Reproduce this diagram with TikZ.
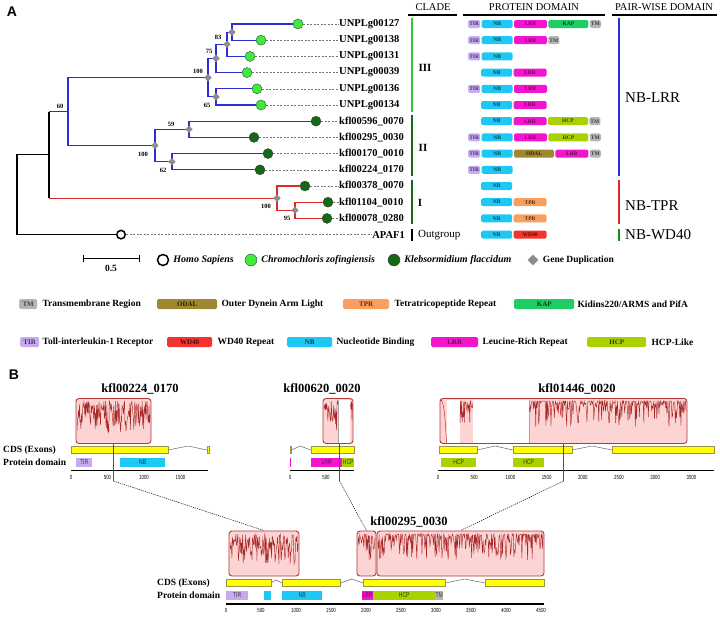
\documentclass[tikz,border=0pt]{standalone}
\usepackage{fontspec}
\setmainfont{Liberation Serif}
\newfontfamily\panelfont{Liberation Sans}
\newfontfamily\narrowfont[FakeStretch=0.72]{Liberation Sans}
\usepackage{tikz}
\usetikzlibrary{shapes.geometric, positioning}
\definecolor{treeblue}{RGB}{45,45,215}
\definecolor{treered}{RGB}{225,40,40}
\definecolor{czgreen}{RGB}{60,235,60}
\definecolor{kfgreen}{RGB}{20,105,20}
\definecolor{dupgray}{RGB}{140,140,140}
\definecolor{tirfill}{RGB}{200,170,240}
\definecolor{nbfill}{RGB}{30,200,245}
\definecolor{lrrfill}{RGB}{245,20,205}
\definecolor{kapfill}{RGB}{30,205,100}
\definecolor{tmfill}{RGB}{180,180,180}
\definecolor{hcpfill}{RGB}{170,210,0}
\definecolor{odalfill}{RGB}{160,135,50}
\definecolor{tprfill}{RGB}{250,160,95}
\definecolor{wdfill}{RGB}{245,50,45}
\definecolor{cdsyellow}{RGB}{255,255,0}
\definecolor{pinkfill}{RGB}{252,212,212}
\definecolor{simred}{RGB}{180,55,55}
\definecolor{tracered}{RGB}{170,40,40}

\begin{document}
\begin{tikzpicture}[
    x=1pt, y=-1pt,
    treeedge/.style={line width=1.1pt},
    blueedge/.style={treeedge, draw=treeblue},
    rededge/.style={treeedge, draw=treered},
    cz/.style={circle, draw=black!75, line width=0.4pt, fill=czgreen, minimum size=10pt, inner sep=0pt},
    kf/.style={cz, fill=kfgreen},
    hs/.style={circle, draw=black, line width=1.5pt, fill=white, minimum size=8.5pt, inner sep=0pt},
    dup/.style={diamond, fill=dupgray, minimum size=7.5pt, inner sep=0pt},
    boot/.style={font=\fontsize{6.5}{7}\selectfont\bfseries, inner sep=0pt},
    leaf/.style={font=\fontsize{10.5}{11}\selectfont\bfseries, anchor=west, inner sep=0pt},
    leafdash/.style={draw=black!55, line width=0.5pt, dash pattern=on 2pt off 1.5pt},
    hdr/.style={font=\fontsize{10.5}{11}\selectfont},
    hdrline/.style={line width=1.3pt},
    cladebar/.style={line width=2pt},
    clade/.style={font=\fontsize{11}{12}\selectfont\bfseries},
    outg/.style={font=\fontsize{11}{12}\selectfont, anchor=west, inner sep=0pt},
    pair/.style={font=\fontsize{15}{16}\selectfont, anchor=west, inner sep=0pt},
    dom/.style={rounded corners=1.5pt, minimum height=8pt, inner sep=0pt, font=\fontsize{5.5}{5.5}\selectfont\bfseries},
    tir/.style={dom, fill=tirfill, text=tirfill!30!black, minimum width=12pt},
    nb/.style={dom, fill=nbfill, text=nbfill!30!black, minimum width=31pt},
    lrr/.style={dom, fill=lrrfill, text=lrrfill!40!black, minimum width=33pt},
    kap/.style={dom, fill=kapfill, text=kapfill!30!black, minimum width=40pt},
    tm/.style={dom, fill=tmfill, text=black!75, minimum width=11pt},
    hcp/.style={dom, fill=hcpfill, text=hcpfill!30!black, minimum width=40pt},
    odal/.style={dom, fill=odalfill, text=odalfill!25!black, minimum width=40pt},
    tpr/.style={dom, fill=tprfill, text=tprfill!30!black, minimum width=33pt},
    wd/.style={dom, fill=wdfill, text=wdfill!30!black, minimum width=33pt},
    leg/.style={minimum height=10pt, font=\fontsize{7}{7}\selectfont\bfseries},
    legtext/.style={font=\fontsize{9.5}{10}\selectfont\bfseries, anchor=west, inner sep=0pt},
    legit/.style={legtext, font=\fontsize{10}{11}\selectfont\bfseries\itshape},
    panel/.style={font=\panelfont\fontsize{14}{14}\selectfont\bfseries},
    gtitle/.style={font=\fontsize{12.5}{13}\selectfont\bfseries},
    rowlabel/.style={font=\fontsize{9.5}{10}\selectfont\bfseries, anchor=west, inner sep=0pt},
    cds/.style={fill=cdsyellow, draw=black!45!yellow, line width=0.5pt},
    intron/.style={draw=black!60, line width=0.5pt},
    bdom/.style={sharp corners, minimum height=9pt, anchor=west, font=\narrowfont\fontsize{7}{7}\selectfont},
    axisline/.style={line width=1.4pt},
    ticklabel/.style={font=\narrowfont\fontsize{6}{6}\selectfont, inner sep=0pt},
    simbox/.style={draw=simred, line width=0.9pt, fill=pinkfill, rounded corners=3pt, inner sep=0pt, minimum height=45pt},
    trace/.style={draw=tracered, line width=0.45pt},
    marker/.style={draw=treered!85!black, line width=1pt},
    zoomline/.style={line width=0.5pt, dash pattern=on 1.2pt off 1pt}
]
\useasboundingbox (0,0) rectangle (720,616);
\pgfmathsetseed{11}

% Panel A
\node[panel] (pA) at (12,12) {A};

% Internal nodes
\coordinate (root) at (17,194.75);
\coordinate (A) at (49,154.9);
\coordinate (b) at (68,111.6);
\coordinate (n4) at (208,77.65);
\coordinate (n3) at (216,58.4);
\coordinate (n2) at (227,44.25);
\coordinate (n1) at (232,32.1);
\coordinate (n5) at (216,96.9);
\coordinate (c2) at (155,145.5);
\coordinate (n6) at (189,129.3);
\coordinate (n7) at (172,161.7);
\coordinate (r1) at (277,198.15);
\coordinate (r2) at (295,210.3);

% Leaves
\node[cz] (l1) at (298,24) {};
\node[cz] (l2) at (261,40.2) {};
\node[cz] (l3) at (250,56.4) {};
\node[cz] (l4) at (247,72.6) {};
\node[cz] (l5) at (257,88.8) {};
\node[cz] (l6) at (261,105) {};
\node[kf] (l7) at (316,121.2) {};
\node[kf] (l8) at (254,137.4) {};
\node[kf] (l9) at (268,153.6) {};
\node[kf] (l10) at (260,169.8) {};
\node[kf] (l11) at (305,186) {};
\node[kf] (l12) at (328,202.2) {};
\node[kf] (l13) at (327,218.4) {};
\node[hs] (l14) at (121,234.6) {};

% Branches
\draw[treeedge] (root) |- (A);
\draw[treeedge] (root) |- (l14);
\draw[treeedge] (A |- b) -- (A |- r1);
\draw[blueedge] (A |- b) -- (b);
\draw[rededge] (A |- r1) -- (r1);

\draw[blueedge] (b) |- (n4);
\draw[blueedge] (b) |- (c2);
\draw[blueedge] (n4) |- (n3);
\draw[blueedge] (n4) |- (n5);
\draw[blueedge] (n3) |- (n2);
\draw[blueedge] (n3) |- (l4);
\draw[blueedge] (n2) |- (n1);
\draw[blueedge] (n2) |- (l3);
\draw[blueedge] (n1) |- (l1);
\draw[blueedge] (n1) |- (l2);
\draw[blueedge] (n5) |- (l5);
\draw[blueedge] (n5) |- (l6);
\draw[blueedge] (c2) |- (n6);
\draw[blueedge] (c2) |- (n7);
\draw[blueedge] (n6) |- (l7);
\draw[blueedge] (n6) |- (l8);
\draw[blueedge] (n7) |- (l9);
\draw[blueedge] (n7) |- (l10);

\draw[rededge] (r1) |- (l11);
\draw[rededge] (r1) |- (r2);
\draw[rededge] (r2) |- (l12);
\draw[rededge] (r2) |- (l13);

% Gene duplications
\foreach \n in {n1,n2,n3,n4,n5,c2,n6,n7,r1,r2}
  \node[dup] (d\n) at (\n) {};

% Bootstrap values
\node[boot] (bs60) at (60,106) {60};
\node[boot] (bs83) at (218,37) {83};
\node[boot] (bs75) at (209,51) {75};
\node[boot] (bs100a) at (198,71) {100};
\node[boot] (bs65) at (207,105) {65};
\node[boot] (bs59) at (171,124) {59};
\node[boot] (bs100b) at (143,154) {100};
\node[boot] (bs62) at (163,170) {62};
\node[boot] (bs100c) at (266,206) {100};
\node[boot] (bs95) at (287,218) {95};

% Gene names
\node[leaf] (t1) at (339,24) {UNPLg00127};
\node[leaf] (t2) at (339,40.2) {UNPLg00138};
\node[leaf] (t3) at (339,56.4) {UNPLg00131};
\node[leaf] (t4) at (339,72.6) {UNPLg00039};
\node[leaf] (t5) at (339,88.8) {UNPLg00136};
\node[leaf] (t6) at (339,105) {UNPLg00134};
\node[leaf] (t7) at (339,121.2) {kfl00596\_0070};
\node[leaf] (t8) at (339,137.4) {kfl00295\_0030};
\node[leaf] (t9) at (339,153.6) {kfl00170\_0010};
\node[leaf] (t10) at (339,169.8) {kfl00224\_0170};
\node[leaf] (t11) at (339,186) {kfl00378\_0070};
\node[leaf] (t12) at (339,202.2) {kfl01104\_0010};
\node[leaf] (t13) at (339,218.4) {kfl00078\_0280};
\node[leaf, anchor=east] (t14) at (405,234.6) {APAF1};

\foreach \i in {1,...,14}
  \draw[leafdash] (l\i) -- (t\i);

% Headers
\node[hdr] (hclade) at (433,7) {CLADE};
\node[hdr] (hdom) at (534,7) {PROTEIN DOMAIN};
\node[hdr] (hpair) at (664,7) {PAIR-WISE DOMAIN};
\draw[hdrline] (408,15) -- (457,15);
\draw[hdrline] (463,15) -- (605,15);
\draw[hdrline] (612,15) -- (717,15);

% Clades
\draw[cladebar, czgreen!85!black] (412,18) -- (412,112);
\draw[cladebar, kfgreen] (412,115) -- (412,176);
\draw[cladebar, kfgreen] (412,180) -- (412,224);
\draw[cladebar, black] (412,229) -- (412,241);
\node[clade] (cIII) at (425,68) {III};
\node[clade] (cII) at (423,148) {II};
\node[clade] (cI) at (420,203) {I};
\node[outg] (cout) at (418,235) {Outgroup};

% Pair-wise domains
\draw[cladebar, treeblue] (619,18) -- (619,176);
\draw[cladebar, treered] (619,180) -- (619,224);
\draw[cladebar, kfgreen!70!green] (619,229) -- (619,241);
\node[pair] (pw1) at (625,98) {NB-LRR};
\node[pair] (pw2) at (625,206) {NB-TPR};
\node[pair] (pw3) at (625,235) {NB-WD40};

% Protein domains
\node[tir, anchor=west] (d0tir) at (468,24) {TIR};
\node[nb, right=1pt of d0tir] (d0nb) {NB};
\node[lrr, right=1pt of d0nb] (d0lrr) {LRR};
\node[kap, right=1pt of d0lrr] (d0kap) {KAP};
\node[tm, right=1pt of d0kap] (d0tm) {TM};

\node[tir, anchor=west] (d1tir) at (468,40.2) {TIR};
\node[nb, right=1pt of d1tir] (d1nb) {NB};
\node[lrr, right=1pt of d1nb] (d1lrr) {LRR};
\node[tm, right=1pt of d1lrr] (d1tm) {TM};

\node[tir, anchor=west] (d2tir) at (468,56.4) {TIR};
\node[nb, right=1pt of d2tir] (d2nb) {NB};

\node[nb, anchor=west] (d3nb) at (481,72.6) {NB};
\node[lrr, right=1pt of d3nb] (d3lrr) {LRR};

\node[tir, anchor=west] (d4tir) at (468,88.8) {TIR};
\node[nb, right=1pt of d4tir] (d4nb) {NB};
\node[lrr, right=1pt of d4nb] (d4lrr) {LRR};

\node[nb, anchor=west] (d5nb) at (481,105) {NB};
\node[lrr, right=1pt of d5nb] (d5lrr) {LRR};

\node[nb, anchor=west] (d6nb) at (481,121.2) {NB};
\node[lrr, right=1pt of d6nb] (d6lrr) {LRR};
\node[hcp, right=1pt of d6lrr] (d6hcp) {HCP};
\node[tm, right=1pt of d6hcp] (d6tm) {TM};

\node[tir, anchor=west] (d7tir) at (468,137.4) {TIR};
\node[nb, right=1pt of d7tir] (d7nb) {NB};
\node[lrr, right=1pt of d7nb] (d7lrr) {LRR};
\node[hcp, right=1pt of d7lrr] (d7hcp) {HCP};
\node[tm, right=1pt of d7hcp] (d7tm) {TM};

\node[tir, anchor=west] (d8tir) at (468,153.6) {TIR};
\node[nb, right=1pt of d8tir] (d8nb) {NB};
\node[odal, right=1pt of d8nb] (d8odal) {ODAL};
\node[lrr, right=1pt of d8odal] (d8lrr) {LRR};
\node[tm, right=1pt of d8lrr] (d8tm) {TM};

\node[tir, anchor=west] (d9tir) at (468,169.8) {TIR};
\node[nb, right=1pt of d9tir] (d9nb) {NB};

\node[nb, anchor=west] (d10nb) at (481,186) {NB};

\node[nb, anchor=west] (d11nb) at (481,202.2) {NB};
\node[tpr, right=1pt of d11nb] (d11tpr) {TPR};

\node[nb, anchor=west] (d12nb) at (481,218.4) {NB};
\node[tpr, right=1pt of d12nb] (d12tpr) {TPR};

\node[nb, anchor=west] (d13nb) at (481,234.6) {NB};
\node[wd, right=1pt of d13nb] (d13wd) {WD40};

% Legend: species
\draw[line width=0.9pt] (83,254.5) -- (83,261.5) (83,258) -- (139,258) (139,254.5) -- (139,261.5);
\node[legtext, anchor=center] (scale) at (111,268) {0.5};
\node[hs, minimum size=11pt] (khs) at (163,260) {};
\node[legit, right=4pt of khs] (khst) {Homo Sapiens};
\node[cz, minimum size=12pt] (kcz) at (251,260) {};
\node[legit, right=4pt of kcz] (kczt) {Chromochloris zofingiensis};
\node[kf, minimum size=12pt] (kkf) at (394,260) {};
\node[legit, right=4pt of kkf] (kkft) {Klebsormidium flaccidum};
\node[dup, minimum size=11pt] (kdup) at (533,260) {};
\node[legtext, right=4pt of kdup] (kdupt) {Gene Duplication};

% Legend: domains
\node[tm, leg, minimum width=18pt, anchor=west] (ktm) at (19,304) {TM};
\node[legtext, right=5pt of ktm] (ktmt) {Transmembrane Region};
\node[odal, leg, minimum width=60pt, anchor=west] (kodal) at (157,304) {ODAL};
\node[legtext, right=4pt of kodal] (kodalt) {Outer Dynein Arm Light};
\node[tpr, leg, minimum width=46pt, anchor=west] (ktpr) at (343,304) {TPR};
\node[legtext, right=5pt of ktpr] (ktprt) {Tetratricopeptide Repeat};
\node[kap, leg, minimum width=60pt, anchor=west] (kkap) at (514,304) {KAP};
\node[legtext, right=3pt of kkap] (kkapt) {Kidins220/ARMS and PifA};

\node[tir, leg, minimum width=19pt, anchor=west] (ktir) at (20,342) {TIR};
\node[legtext, right=3pt of ktir] (ktirt) {Toll-interleukin-1 Receptor};
\node[wd, leg, minimum width=45pt, anchor=west] (kwd) at (167,342) {WD40};
\node[legtext, right=5pt of kwd] (kwdt) {WD40 Repeat};
\node[nb, leg, minimum width=45pt, anchor=west] (knb) at (287,342) {NB};
\node[legtext, right=4pt of knb] (knbt) {Nucleotide Binding};
\node[lrr, leg, minimum width=47pt, anchor=west] (klrr) at (431,342) {LRR};
\node[legtext, right=4pt of klrr] (klrrt) {Leucine-Rich Repeat};
\node[hcp, leg, minimum width=59pt, anchor=west] (khcp) at (587,342) {HCP};
\node[legtext, right=5pt of khcp] (khcpt) {HCP-Like};

% Panel B
\node[panel] (pB) at (14,375) {B};
\node[gtitle] (g1) at (140,389) {kfl00224\_0170};
\node[gtitle] (g2) at (322,389) {kfl00620\_0020};
\node[gtitle] (g3) at (577,389) {kfl01446\_0020};
\node[gtitle] (g4) at (409,522) {kfl00295\_0030};

\node[rowlabel] (cds1) at (3,450) {CDS (Exons)};
\node[rowlabel] (pd1) at (3,462) {Protein domain};
\node[rowlabel] (cds2) at (157,583) {CDS (Exons)};
\node[rowlabel] (pd2) at (157,595) {Protein domain};

% Similarity plots
\node[simbox, minimum width=75pt] (s1) at (113.5,421) {};
\begin{scope}
  \clip (77,399.5) rectangle (150,443);
  \draw[trace] plot[domain=77:150, samples=150] (\x,{401+32*pow(rnd,1.3)});
\end{scope}

\node[simbox, minimum width=30pt] (s2) at (338,421) {};
\fill[white] (338.5,399.5) rectangle (350,442.5);
\draw[black!35, line width=0.4pt] (338.5,400) -- (338.5,443);
\begin{scope}
  \clip (324,399.5) rectangle (352.5,443);
  \draw[trace] plot[domain=324:338, samples=30] (\x,{401+30*pow(rnd,1.5)});
  \draw[trace] plot[domain=350.5:352.5, samples=5] (\x,{401+20*pow(rnd,1.5)});
\end{scope}

\node[simbox, minimum width=247pt] (s3) at (563.5,421) {};
\fill[white] (446.5,399.5) rectangle (460,442.5);
\fill[white] (473,399.5) rectangle (529,442.5);
\draw[black!35, line width=0.4pt] (529,400) -- (529,443);
\begin{scope}
  \clip (441,399.5) rectangle (686,443);
  \draw[trace] (441,400) .. controls (443,401) and (445,410) .. (446.5,443);
  \draw[trace] plot[domain=460:473, samples=25] (\x,{401+22*pow(rnd,2)});
  \draw[trace] plot[domain=529:686, samples=280] (\x,{401+26*pow(rnd,3)});
\end{scope}

\node[simbox, minimum width=70pt] (sA) at (264,553.5) {};
\node[simbox, minimum width=19pt] (sB) at (366.5,553.5) {};
\node[simbox, minimum width=167pt] (sC) at (460.5,553.5) {};
\begin{scope}
  \clip (230,532.5) rectangle (298,575);
  \draw[trace] plot[domain=230:298, samples=140] (\x,{534+30*pow(rnd,1.3)});
\end{scope}
\begin{scope}
  \clip (358,532.5) rectangle (375,575);
  \draw[trace] plot[domain=358:375, samples=30] (\x,{534+26*pow(rnd,2)});
\end{scope}
\begin{scope}
  \clip (378,532.5) rectangle (543,575);
  \draw[trace] plot[domain=378:543, samples=290] (\x,{534+26*pow(rnd,3)});
\end{scope}

% Gene structures: kfl00224_0170
\draw[intron] (168,450) -- (188,446) -- (207,450);
\draw[cds] (71,446.5) rectangle (168,453.5);
\draw[cds] (207,446.5) rectangle (209,453.5);
\node[tir, bdom, minimum width=16pt] (g1tir) at (76,462) {TIR};
\node[nb, bdom, minimum width=45pt] (g1nb) at (120,462) {NB};
\draw[axisline] (71,470.5) -- (208,470.5);
\foreach \t [count=\i from 0] in {0,500,1000,1500}
  \node[ticklabel] (g1k\i) at (71+36.5*\i,477) {\t};

% Gene structures: kfl00620_0020
\draw[intron] (291.5,450) -- (300,446) -- (311,450);
\draw[cds] (290,446.5) rectangle (291.5,453.5);
\draw[cds] (311,446.5) rectangle (354,453.5);
\fill[lrrfill] (290,457.5) rectangle (291,466.5);
\node[lrr, bdom, minimum width=31pt] (g2lrr) at (311,462) {LRR};
\node[hcp, bdom, minimum width=12pt] (g2hcp) at (342,462) {HCP};
\draw[axisline] (290,470.5) -- (354,470.5);
\foreach \t [count=\i from 0] in {0,500}
  \node[ticklabel] (g2k\i) at (290+36*\i,477) {\t};

% Gene structures: kfl01446_0020
\draw[intron] (477,450) -- (495,446) -- (513,450);
\draw[intron] (572,450) -- (592,446) -- (612,450);
\draw[cds] (439,446.5) rectangle (477,453.5);
\draw[cds] (513,446.5) rectangle (572,453.5);
\draw[cds] (612,446.5) rectangle (714,453.5);
\node[hcp, bdom, minimum width=35pt] (g3hcp1) at (441,462) {HCP};
\node[hcp, bdom, minimum width=31pt] (g3hcp2) at (513,462) {HCP};
\draw[axisline] (438,470.5) -- (714,470.5);
\foreach \t [count=\i from 0] in {0,500,1000,1500,2000,2500,3000,3500}
  \node[ticklabel] (g3k\i) at (438+36.2*\i,477) {\t};

% Gene structures: kfl00295_0030
\draw[intron] (271,583) -- (276,580) -- (282,583);
\draw[intron] (340,583) -- (352,579) -- (363,583);
\draw[intron] (445,583) -- (465,579) -- (485,583);
\draw[cds] (226,579.5) rectangle (271,586.5);
\draw[cds] (282,579.5) rectangle (340,586.5);
\draw[cds] (363,579.5) rectangle (445,586.5);
\draw[cds] (485,579.5) rectangle (544,586.5);
\node[tir, bdom, minimum width=22pt] (g4tir) at (226,595) {TIR};
\node[nb, bdom, minimum width=7pt] (g4nb1) at (264,595) {};
\node[nb, bdom, minimum width=40pt] (g4nb2) at (282,595) {NB};
\node[lrr, bdom, minimum width=11pt] (g4lrr) at (362,595) {LRR};
\node[hcp, bdom, minimum width=62pt] (g4hcp) at (373,595) {HCP};
\node[tm, bdom, minimum width=8pt] (g4tm) at (435,595) {TM};
\draw[axisline] (226,604) -- (544,604);
\foreach \t [count=\i from 0] in {0,500,1000,1500,2000,2500,3000,3500,4000,4500}
  \node[ticklabel] (g4k\i) at (226+35*\i,610) {\t};

% Matched positions
\coordinate (m1) at (113.5,481);
\coordinate (m2) at (339.5,481);
\coordinate (m3) at (563.5,481);
\draw[marker] (s1.south) -- (m1);
\draw[marker] (m2 |- s2.south) -- (m2);
\draw[marker] (s3.south) -- (m3);
\draw[zoomline] (m1) -- (sA.north);
\draw[zoomline] (m2) -- (sB.north);
\draw[zoomline] (m3) -- (sC.north);

\end{tikzpicture}
\end{document}
